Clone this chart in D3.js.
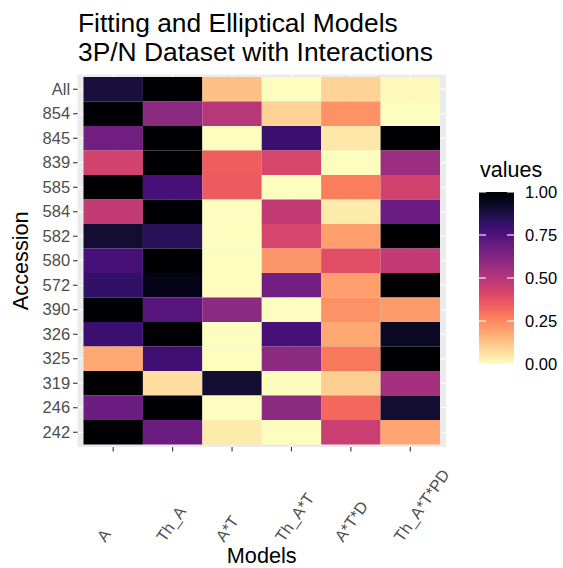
<!DOCTYPE html>
<html>
<head>
<meta charset="utf-8">
<script src="https://cdn.jsdelivr.net/npm/d3@7"></script>
<style>
  body { margin: 0; background: #fff; }
  text { font-family: "Liberation Sans", Arial, sans-serif; }
</style>
</head>
<body>
<svg id="heat"></svg>
<script>
// accessions top to bottom, models left to right
var accessions = ["All", "854", "845", "839", "585", "584", "582", "580", "572", "390", "326", "325", "319", "246", "242"]
var models = ["A", "Th_A", "A*T", "Th_A*T", "A*T*D", "Th_A*T*PD"]

// one array per model, values follow the accessions order
var valA        = [0.89, 1.00, 0.67, 0.43, 1.00, 0.47, 0.91, 0.77, 0.82, 1.00, 0.80, 0.18, 1.00, 0.68, 1.00]
var valThA      = [1.00, 0.60, 1.00, 1.00, 0.77, 1.00, 0.84, 1.00, 0.96, 0.73, 1.00, 0.79, 0.07, 1.00, 0.68]
var valAT       = [0.13, 0.50, 0.00, 0.34, 0.35, 0.00, 0.00, 0.00, 0.00, 0.60, 0.00, 0.00, 0.91, 0.00, 0.04]
var valThAT     = [0.00, 0.09, 0.80, 0.42, 0.00, 0.47, 0.42, 0.22, 0.67, 0.00, 0.77, 0.60, 0.00, 0.60, 0.00]
var valATD      = [0.09, 0.23, 0.05, 0.00, 0.27, 0.04, 0.20, 0.39, 0.20, 0.23, 0.18, 0.28, 0.10, 0.32, 0.45]
var valThATPD   = [0.01, 0.00, 1.00, 0.56, 0.43, 0.68, 1.00, 0.47, 1.00, 0.21, 0.93, 1.00, 0.54, 0.91, 0.19]

var legendTicks = [0, 0.25, 0.5, 0.75, 1]

var columns = [valA, valThA, valAT, valThAT, valATD, valThATPD]
var cells = []
models.forEach(function(m, i) {
    accessions.forEach(function(a, j) {
        cells.push({model: m, accession: a, value: columns[i][j]})
    })
})

var dims = {
    width: 563,
    height: 568,
    tiles: {left: 83.5, right: 440, top: 77, bottom: 444.5}
}

var svg = d3.select("#heat")
            .attr("width", dims.width)
            .attr("height", dims.height)

var xScale = d3.scaleBand()
               .domain(models)
               .range([dims.tiles.left, dims.tiles.right])

var yScale = d3.scaleBand()
               .domain(accessions)
               .range([dims.tiles.top, dims.tiles.bottom])

// reversed magma, 0 = pale yellow, 1 = black
var color = d3.scaleSequential(t => d3.interpolateMagma(1 - t)).domain([0, 1])

var padX = xScale.bandwidth() * 0.1
var padY = yScale.bandwidth() * 0.1
var panel = {
    x0: dims.tiles.left - padX,
    x1: dims.tiles.right + padX,
    y0: dims.tiles.top - padY,
    y1: dims.tiles.bottom + padY
}

svg.append("rect")
   .attr("x", panel.x0)
   .attr("y", panel.y0)
   .attr("width", panel.x1 - panel.x0)
   .attr("height", panel.y1 - panel.y0)
   .attr("fill", "#EBEBEB")

// white grid lines at each category
svg.append("g")
   .selectAll("line")
   .data(models)
   .enter()
   .append("line")
   .attr("x1", d => xScale(d) + xScale.bandwidth() / 2)
   .attr("x2", d => xScale(d) + xScale.bandwidth() / 2)
   .attr("y1", panel.y0)
   .attr("y2", panel.y1)
   .attr("stroke", "white")
   .attr("stroke-width", 1.1)

svg.append("g")
   .selectAll("line")
   .data(accessions)
   .enter()
   .append("line")
   .attr("x1", panel.x0)
   .attr("x2", panel.x1)
   .attr("y1", d => yScale(d) + yScale.bandwidth() / 2)
   .attr("y2", d => yScale(d) + yScale.bandwidth() / 2)
   .attr("stroke", "white")
   .attr("stroke-width", 1.1)

svg.append("g")
   .selectAll("rect")
   .data(cells)
   .enter()
   .append("rect")
   .attr("x", d => xScale(d.model))
   .attr("y", d => yScale(d.accession))
   .attr("width", xScale.bandwidth())
   .attr("height", yScale.bandwidth())
   .attr("fill", d => color(d.value))

// axes
var yAxis = svg.append("g")
               .attr("transform", `translate(${panel.x0},0)`)
               .call(d3.axisLeft(yScale).tickSize(4.5).tickPadding(3))
yAxis.select(".domain").remove()
yAxis.selectAll("line").attr("stroke", "#333333").attr("stroke-width", 1.1)
yAxis.selectAll("text")
     .attr("fill", "#4D4D4D")
     .attr("font-size", "16.5px")
     .attr("font-family", "Liberation Sans, Arial, sans-serif")

var xAxis = svg.append("g")
               .attr("transform", `translate(0,${panel.y1})`)
               .call(d3.axisBottom(xScale).tickSize(4.5))
xAxis.select(".domain").remove()
xAxis.selectAll("line").attr("stroke", "#333333").attr("stroke-width", 1.1)
xAxis.selectAll("text").remove()

svg.append("g")
   .selectAll("text")
   .data(models)
   .enter()
   .append("text")
   .attr("transform", d => `translate(${xScale(d) + xScale.bandwidth() / 2 - 8},${543}) rotate(-55)`)
   .attr("text-anchor", "start")
   .attr("fill", "#4D4D4D")
   .attr("font-size", "16.2px")
   .text(d => d)

// titles
var title = svg.append("text")
               .attr("x", 78)
               .attr("y", 31.5)
               .attr("font-size", "26.4px")
               .attr("fill", "black")
title.append("tspan").attr("x", 78).text("Fitting and Elliptical Models")
title.append("tspan").attr("x", 78).attr("dy", 29.5).text("3P/N Dataset with Interactions")

svg.append("text")
   .attr("x", (panel.x0 + panel.x1) / 2)
   .attr("y", 563)
   .attr("text-anchor", "middle")
   .attr("font-size", "21.7px")
   .attr("fill", "black")
   .text("Models")

svg.append("text")
   .attr("transform", `translate(28,${(panel.y0 + panel.y1) / 2}) rotate(-90)`)
   .attr("text-anchor", "middle")
   .attr("font-size", "21.7px")
   .attr("fill", "black")
   .text("Accession")

// legend colour bar
var legend = {x: 479, y0: 192, y1: 364, w: 35}
var legendScale = d3.scaleLinear().domain([0, 1]).range([legend.y1, legend.y0])

var grad = svg.append("defs")
              .append("linearGradient")
              .attr("id", "bar")
              .attr("x1", 0).attr("y1", 1)
              .attr("x2", 0).attr("y2", 0)
d3.range(0, 1.0001, 0.05).forEach(function(t) {
    grad.append("stop").attr("offset", t).attr("stop-color", color(t))
})

svg.append("text")
   .attr("x", 480)
   .attr("y", 177)
   .attr("font-size", "21.5px")
   .attr("fill", "black")
   .text("values")

svg.append("rect")
   .attr("x", legend.x)
   .attr("y", legend.y0)
   .attr("width", legend.w)
   .attr("height", legend.y1 - legend.y0)
   .attr("fill", "url(#bar)")

var legTicks = svg.append("g")
legendTicks.forEach(function(v) {
    var y = legendScale(v)
    legTicks.append("line")
            .attr("x1", legend.x).attr("x2", legend.x + legend.w / 5)
            .attr("y1", y).attr("y2", y)
            .attr("stroke", "white").attr("stroke-width", 1.1)
    legTicks.append("line")
            .attr("x1", legend.x + legend.w * 4 / 5).attr("x2", legend.x + legend.w)
            .attr("y1", y).attr("y2", y)
            .attr("stroke", "white").attr("stroke-width", 1.1)
    legTicks.append("text")
            .attr("x", 525)
            .attr("y", y)
            .attr("dy", "0.36em")
            .attr("font-size", "16.5px")
            .attr("fill", "black")
            .text(d3.format(".2f")(v))
})
</script>
</body>
</html>
